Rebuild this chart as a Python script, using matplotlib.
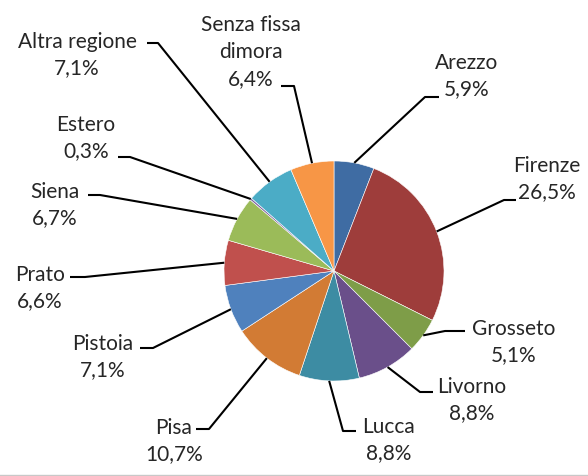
import numpy as np
import matplotlib
matplotlib.use("Agg")
import matplotlib.pyplot as plt

# ---- data ----
categories = ["Arezzo", "Firenze", "Grosseto", "Livorno", "Lucca", "Pisa",
              "Pistoia", "Prato", "Siena", "Estero", "Altra regione",
              "Senza fissa\ndimora"]
values = [5.9, 26.5, 5.1, 8.8, 8.8, 10.7, 7.1, 6.6, 6.7, 0.3, 7.1, 6.4]
colors = ["#3F6CA3", "#9E3D3B", "#7E9D48", "#6A4F8A", "#3D8CA3", "#D27B34",
          "#4F81BD", "#C0504D", "#9BBB59", "#8064A2", "#4BACC6", "#F79646"]

# ---- layout (image pixel coords, y downward) ----
W, H = 588, 477
center = (334, 272)
radius = 110
# label block center, elbow point, horizontal end point
layout = [
    ((467, 76), (425, 98), (439, 98)),    # Arezzo
    ((547, 179), (504, 201), (516, 201)), # Firenze
    ((514, 342), (445, 332), (465, 332)), # Grosseto
    ((472, 400), (420, 393), (433, 393)), # Livorno
    ((389, 440), (343, 432), (356, 432)), # Lucca
    ((174, 441), (209, 430), (196, 430)), # Pisa
    ((103, 357), (153, 349), (140, 349)), # Pistoia
    ((40, 288), (85, 278), (70, 278)),    # Prato
    ((55, 205), (100, 196), (88, 196)),   # Siena
    ((86, 138), (130, 158), (118, 158)),  # Estero
    ((77, 55), (158, 44), (147, 44)),     # Altra regione
    ((251, 52), (294, 87), (281, 87)),    # Senza fissa dimora
]

def fy(y):
    return H - y

fig = plt.figure(figsize=(W / 100, H / 100), dpi=100)
ax = fig.add_axes([0, 0, 1, 1])

wedges, _ = ax.pie(values, colors=colors, startangle=90, counterclock=False,
                   center=(center[0], fy(center[1])), radius=radius,
                   wedgeprops=dict(edgecolor="white", linewidth=0.4),
                   frame=True)
ax.set_xlim(0, W)
ax.set_ylim(0, H)
ax.set_aspect("equal")
ax.axis("off")

for w, cat, val, (txt, elbow, end) in zip(wedges, categories, values, layout):
    ang = np.deg2rad((w.theta1 + w.theta2) / 2)
    px = w.center[0] + w.r * np.cos(ang)
    py = w.center[1] + w.r * np.sin(ang)
    ax.plot([px, elbow[0], end[0]], [py, fy(elbow[1]), fy(end[1])],
            color="black", lw=1.5, solid_capstyle="butt", zorder=1)
    label = f"{cat}\n{val:.1f}%".replace(".", ",")
    ax.text(txt[0], fy(txt[1]), label, ha="center", va="center",
            fontsize=15, family="Lato", color="#262626", linespacing=1.42)

ax.axhline(fy(475.5), color="#c8c8c8", lw=1)

fig.savefig("out.png", dpi=100)
